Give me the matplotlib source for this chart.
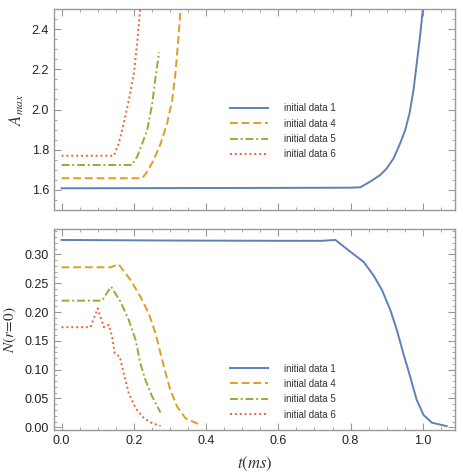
import matplotlib
matplotlib.use("Agg")
import matplotlib.pyplot as plt
from matplotlib.ticker import MultipleLocator, FormatStrFormatter

plt.rcParams['font.family'] = ['Liberation Sans', 'DejaVu Sans']
plt.rcParams['mathtext.fontset'] = 'stix'

labels = ["initial data 1", "initial data 4", "initial data 5", "initial data 6"]
colors = ["#5E81B5", "#E19C24", "#8FB032", "#EB6235"]

# Top panel: A_max vs t
t1_top = [0.0, 0.3, 0.6, 0.80, 0.827, 0.854, 0.882, 0.900, 0.919, 0.937, 0.951, 0.963, 0.974, 0.983, 0.993, 1.0, 1.01]
a1_top = [1.608, 1.609, 1.610, 1.611, 1.613, 1.641, 1.674, 1.707, 1.757, 1.831, 1.897, 1.98, 2.095, 2.227, 2.376, 2.50, 2.68]
t4_top = [0.0, 0.223, 0.237, 0.255, 0.274, 0.292, 0.306, 0.315, 0.322, 0.329, 0.336]
a4_top = [1.658, 1.658, 1.69, 1.749, 1.83, 1.93, 2.045, 2.178, 2.326, 2.49, 2.65]
t5_top = [0.0, 0.195, 0.209, 0.223, 0.237, 0.251, 0.26, 0.27]
a5_top = [1.724, 1.724, 1.765, 1.83, 1.897, 2.03, 2.16, 2.285]
t6_top = [0.0, 0.145, 0.158, 0.172, 0.186, 0.2, 0.209, 0.217, 0.224]
a6_top = [1.77, 1.77, 1.83, 1.93, 2.045, 2.178, 2.326, 2.49, 2.65]

# Bottom panel: N(r=0) vs t
t1_bot = [0.0, 0.3, 0.6, 0.72, 0.758, 0.799, 0.836, 0.863, 0.887, 0.910, 0.928, 0.946, 0.965, 0.983, 1.002, 1.025, 1.066]
n1_bot = [0.325, 0.324, 0.3235, 0.3235, 0.325, 0.3047, 0.287, 0.264, 0.238, 0.2034, 0.169, 0.128, 0.0877, 0.0475, 0.0213, 0.008, 0.002]
t4_bot = [0.0, 0.135, 0.158, 0.191, 0.218, 0.241, 0.260, 0.274, 0.288, 0.301, 0.320, 0.343, 0.384]
n4_bot = [0.2776, 0.2776, 0.2828, 0.2554, 0.2266, 0.198, 0.163, 0.128, 0.0937, 0.0647, 0.0357, 0.0156, 0.004]
t5_bot = [0.0, 0.112, 0.137, 0.163, 0.186, 0.205, 0.218, 0.232, 0.251, 0.274]
n5_bot = [0.2197, 0.2197, 0.244, 0.218, 0.186, 0.1514, 0.111, 0.082, 0.053, 0.0255]
t6_bot = [0.0, 0.08, 0.100, 0.117, 0.131, 0.140, 0.147, 0.161, 0.172, 0.186, 0.205, 0.228, 0.251, 0.274]
n6_bot = [0.1736, 0.1736, 0.2064, 0.1734, 0.1776, 0.157, 0.128, 0.1226, 0.0936, 0.059, 0.033, 0.0156, 0.007, 0.0023]

styles = [dict(ls='-'), dict(ls=(0, (4, 2))), dict(ls=(0, (4, 1.5, 1, 1.5))), dict(ls=(0, (1, 1.5)))]

W, H = 463, 476
fig = plt.figure(figsize=(W / 100, H / 100), dpi=100)
ax1 = fig.add_axes([54 / W, 1 - 210 / H, 401 / W, 201 / H])
ax2 = fig.add_axes([54 / W, 1 - 430 / H, 401 / W, 201 / H])

top = [(t1_top, a1_top), (t4_top, a4_top), (t5_top, a5_top), (t6_top, a6_top)]
bot = [(t1_bot, n1_bot), (t4_bot, n4_bot), (t5_bot, n5_bot), (t6_bot, n6_bot)]

for (x, y), c, s, l in zip(top, colors, styles, labels):
    ax1.plot(x, y, color=c, lw=1.4, label=l, solid_joinstyle='round', **s)
for (x, y), c, s, l in zip(bot, colors, styles, labels):
    ax2.plot(x, y, color=c, lw=1.4, label=l, solid_joinstyle='round', **s)

ax1.set_xlim(-0.021, 1.089)
ax2.set_xlim(-0.021, 1.089)
ax1.set_ylim(1.5, 2.5)
ax2.set_ylim(-0.0047, 0.344)

ax1.yaxis.set_major_locator(MultipleLocator(0.2))
ax1.yaxis.set_minor_locator(MultipleLocator(0.05))
ax2.yaxis.set_major_locator(MultipleLocator(0.05))
ax2.yaxis.set_minor_locator(MultipleLocator(0.01))
for ax in (ax1, ax2):
    ax.xaxis.set_major_locator(MultipleLocator(0.2))
    ax.xaxis.set_minor_locator(MultipleLocator(0.05))
    ax.tick_params(which='both', direction='in', top=True, right=True, color='#999999',
                   labelsize=9, labelcolor='#222222')
    ax.tick_params(which='major', length=5, width=0.8)
    ax.tick_params(which='minor', length=2.5, width=0.6)
    for sp in ax.spines.values():
        sp.set_color('#999999')
        sp.set_linewidth(1.0)
    ax.legend(loc='upper left', bbox_to_anchor=(0.43, 0.55) if ax is ax1 else (0.43, 0.35),
              frameon=False, fontsize=7, handlelength=3.9, handletextpad=1.6,
              labelspacing=0.55, labelcolor='#333333', borderaxespad=0)

ax1.tick_params(labelbottom=False)
ax1.yaxis.set_major_formatter(FormatStrFormatter('%.1f'))
ax2.yaxis.set_major_formatter(FormatStrFormatter('%.2f'))
ax2.xaxis.set_major_formatter(FormatStrFormatter('%.1f'))

ax1.set_ylabel(r'$A_{max}$', fontsize=12, color='#333333', labelpad=4)
ax2.set_ylabel(r'$N(r\!=\!0)$', fontsize=11, color='#333333', labelpad=4)
ax2.set_xlabel(r'$t(ms)$', fontsize=12, color='#333333', labelpad=6)

fig.savefig('out.png', dpi=100)
